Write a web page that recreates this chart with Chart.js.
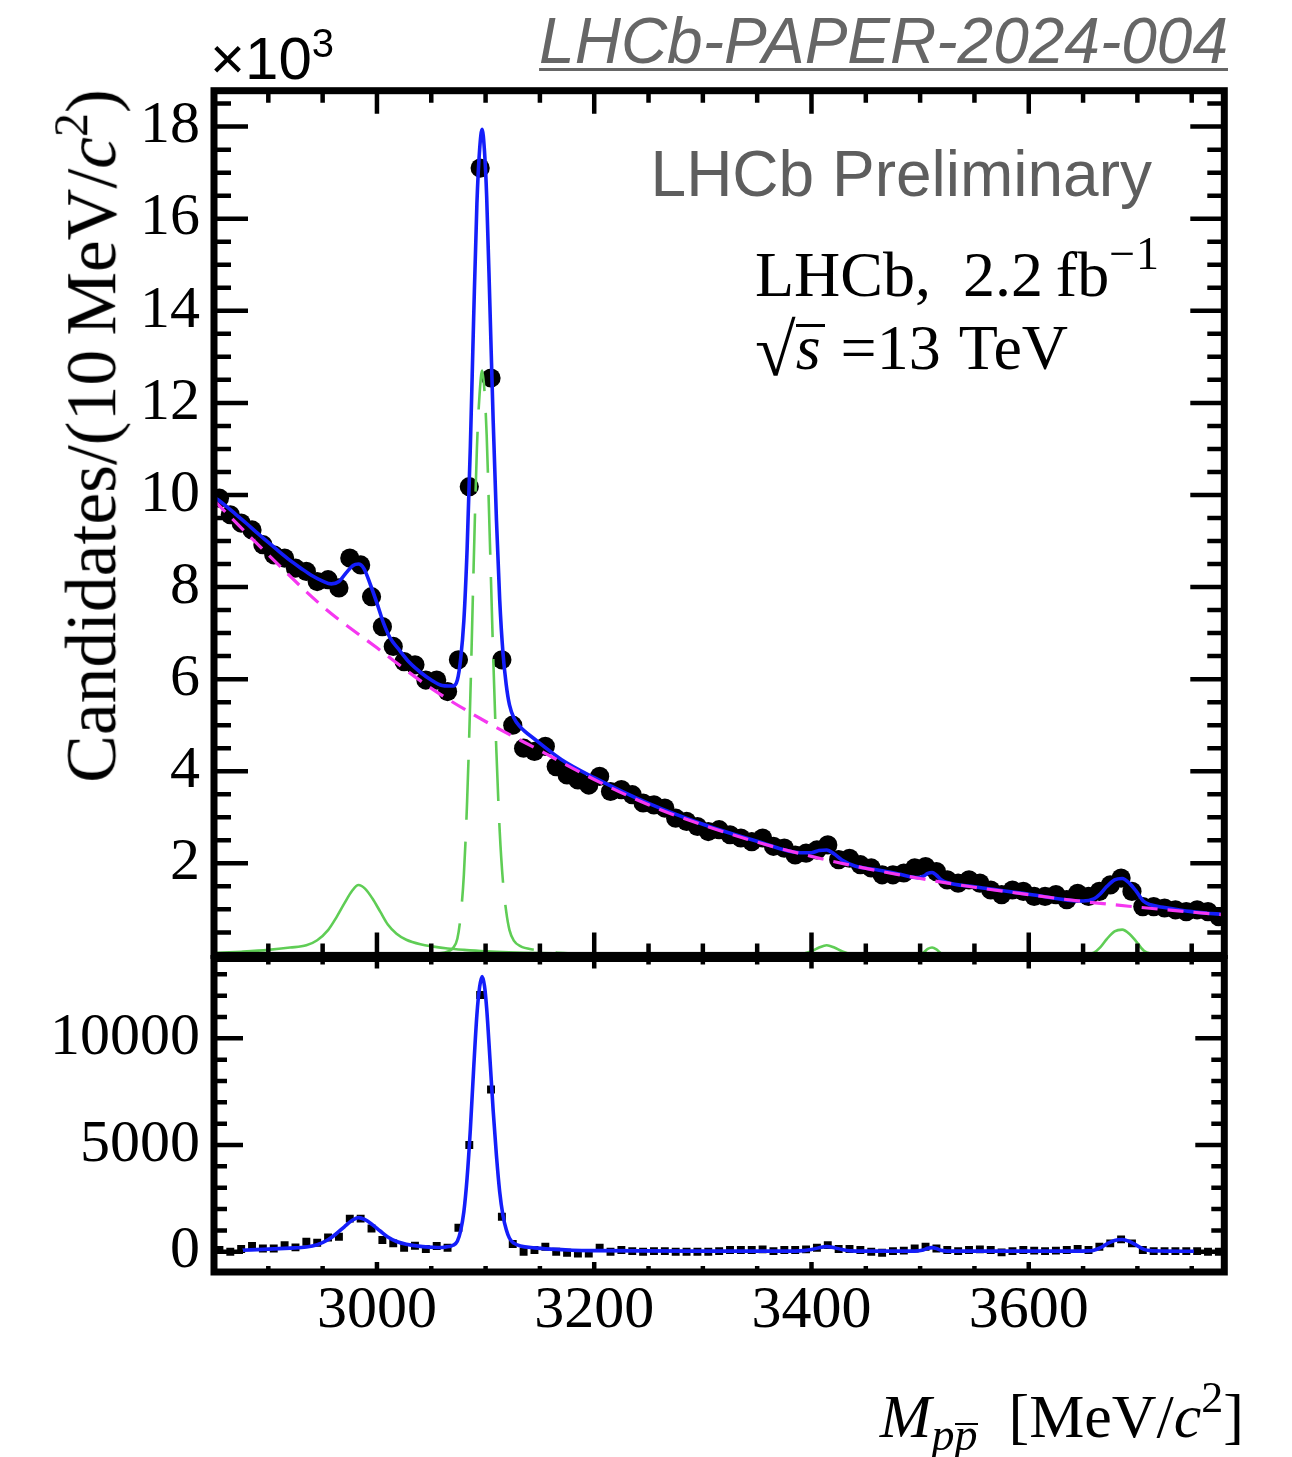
<!DOCTYPE html>
<html>
<head>
<meta charset="utf-8">
<title>LHCb p pbar invariant mass</title>
<script src="https://cdn.jsdelivr.net/npm/chart.js@4.4.1/dist/chart.umd.min.js"></script>
<style>
  html, body { margin: 0; padding: 0; background: #fff; }
  #wrap { position: relative; width: 1292px; height: 1457px; overflow: hidden; background: #fff; }
  canvas { position: absolute; left: 0; top: 0; }
  .t { position: absolute; white-space: nowrap; line-height: 1; }
  .serif { font-family: 'Liberation Serif', 'Times New Roman', serif; color: #000; }
  .sans { font-family: 'Liberation Sans', Arial, sans-serif; }
  .bar { display: inline-block; line-height: 0.425em; border-top: 2px solid #000; }
</style>
</head>
<body>
<div id="wrap">
  <canvas id="upper" width="1292" height="1457"></canvas>
  <canvas id="lower" width="1292" height="1457"></canvas>

  <div class="t sans" style="right:64px; top:9px; font-size:64px; font-style:italic; color:#666; text-decoration:underline; text-decoration-thickness:3px; text-underline-offset:5px;">LHCb-PAPER-2024-004</div>
  <div class="t sans" style="left:210px; top:29px; font-size:60px; color:#000;">×10<span style="font-size:40px; position:relative; top:-22px;">3</span></div>
  <div class="t sans" style="right:140px; top:142px; font-size:64px; color:#5e5e5e;">LHCb Preliminary</div>
  <div class="t serif" style="left:755px; top:243px; font-size:64px;">LHCb,&#8194;2.2&#8201;fb<span style="font-size:46px; position:relative; top:-27px; letter-spacing:1px;">−1</span></div>
  <div class="t serif" style="left:755px; top:307px; font-size:64px;"><span style="font-size:74px; position:relative; top:6px;">√</span><i style="display:inline-block; line-height:0.66em; border-top:3px solid #000; padding-right:4px;">s</i>&#8197;=13&#8202;&#8201;TeV</div>

  <div class="t serif" style="left:91px; top:436px; font-size:71.5px; transform: translate(-50%,-50%) rotate(-90deg);">Candidates/(10&#8201;MeV/<i>c</i><span style="font-size:48px; position:relative; top:-28px;">2</span>)</div>

  <div class="t serif" style="right:48px; top:1385px; font-size:62px;"><i>M</i><span style="font-size:46px; position:relative; top:13px;"><i>p</i><i class="bar">p</i></span>&#8194;[MeV/<i>c</i><span style="font-size:44px; position:relative; top:-25px;">2</span>]</div>
</div>

<script>
// 10 MeV bins of the p pbar invariant mass
const binCenters = [
  2855, 2865, 2875, 2885, 2895, 2905, 2915, 2925, 2935, 2945,
  2955, 2965, 2975, 2985, 2995, 3005, 3015, 3025, 3035, 3045,
  3055, 3065, 3075, 3085, 3095, 3105, 3115, 3125, 3135, 3145,
  3155, 3165, 3175, 3185, 3195, 3205, 3215, 3225, 3235, 3245,
  3255, 3265, 3275, 3285, 3295, 3305, 3315, 3325, 3335, 3345,
  3355, 3365, 3375, 3385, 3395, 3405, 3415, 3425, 3435, 3445,
  3455, 3465, 3475, 3485, 3495, 3505, 3515, 3525, 3535, 3545,
  3555, 3565, 3575, 3585, 3595, 3605, 3615, 3625, 3635, 3645,
  3655, 3665, 3675, 3685, 3695, 3705, 3715, 3725, 3735, 3745,
  3755, 3765, 3775
];

// candidates per bin
const upperCounts = [
  9930, 9570, 9390, 9240, 8920, 8700, 8630, 8410, 8340, 8120,
  8160, 7980, 8630, 8480, 7790, 7140, 6710, 6380, 6310, 5980,
  5980, 5730, 6420, 10180, 17100, 12540, 6420, 5000, 4500, 4430,
  4540, 4100, 3920, 3810, 3700, 3890, 3560, 3600, 3490, 3310,
  3270, 3200, 2980, 2910, 2800, 2690, 2730, 2620, 2550, 2470,
  2550, 2370, 2330, 2180, 2220, 2290, 2400, 2080, 2110, 1970,
  1900, 1750, 1750, 1790, 1900, 1930, 1820, 1640, 1570, 1640,
  1570, 1420, 1320, 1420, 1390, 1280, 1280, 1320, 1210, 1350,
  1280, 1390, 1530, 1680, 1390, 1060, 1060, 1030, 990, 950,
  990, 950, 840
];

// background-subtracted candidates per bin
const lowerCounts = [
  80, 0, 125, 265, 155, 155, 310, 205, 470, 420,
  670, 700, 1550, 1550, 1090, 550, 390, 190, 280, 125,
  265, 190, 1120, 5000, 12030, 7600, 1640, 360, 0, 80,
  235, 0, -50, -80, -80, 190, 0, 80, 30, 0,
  30, 30, 0, 0, 0, 0, 30, 80, 80, 80,
  110, 30, 80, 80, 110, 190, 310, 125, 125, 80,
  0, -50, 30, 50, 155, 235, 155, 80, 30, 80,
  110, 80, -30, 30, 80, 50, 30, 50, 80, 125,
  80, 235, 390, 580, 390, 80, 30, 30, 30, 30,
  30, 0, 0
];

// total fit
const totalFitMass = [
  2850, 2860, 2870, 2880, 2890, 2900, 2910, 2920, 2930, 2940,
  2950, 2958, 2965, 2972, 2978, 2983, 2988, 2994, 3000, 3006,
  3012, 3020, 3030, 3040, 3050, 3060, 3066, 3070, 3074, 3077,
  3080, 3083, 3086, 3089, 3092, 3094.5, 3096.8, 3099, 3101, 3104,
  3107, 3110, 3113, 3116, 3119, 3122, 3126, 3132, 3145, 3170,
  3200, 3250, 3300, 3350, 3390, 3400, 3407, 3414, 3421, 3428,
  3440, 3460, 3480, 3498, 3503, 3507, 3511, 3515, 3519, 3524,
  3550, 3600, 3650, 3660, 3666, 3672, 3679, 3686, 3693, 3699,
  3706, 3712, 3725, 3750, 3780
];
const totalFitCounts = [
  9960, 9780, 9580, 9380, 9170, 8970, 8770, 8580, 8410, 8250,
  8130, 8070, 8120, 8320, 8470, 8500, 8400, 8050, 7650, 7220,
  6900, 6650, 6360, 6150, 5980, 5860, 5850, 5850, 5980, 6430,
  7270, 8830, 11070, 13830, 16320, 17500, 17940, 17460, 16480, 14090,
  11600, 9460, 7720, 6570, 5880, 5440, 5160, 4960, 4700, 4250,
  3860, 3300, 2850, 2480, 2230, 2230, 2280, 2290, 2200, 2070,
  1940, 1860, 1770, 1690, 1720, 1780, 1800, 1740, 1650, 1590,
  1490, 1330, 1180, 1230, 1340, 1500, 1640, 1670, 1560, 1390,
  1170, 1100, 1040, 950, 890
];

// combinatorial background
const bkgFitMass = [
  2850, 2900, 2950, 3000, 3050, 3100, 3150, 3200, 3250, 3300,
  3350, 3400, 3450, 3500, 3550, 3600, 3650, 3700, 3750, 3780
];
const bkgFitCounts = [
  9880, 8700, 7580, 6680, 5800, 5080, 4450, 3820, 3270, 2830,
  2460, 2150, 1890, 1670, 1480, 1320, 1170, 1050, 940, 880
];

// J/psi component
const jpsiFitMass = [
  3040, 3055, 3066, 3070, 3074, 3077, 3080, 3083, 3086, 3089,
  3092, 3094.5, 3096.8, 3099, 3101, 3104, 3107, 3110, 3113, 3116,
  3119, 3122, 3126, 3132, 3145, 3160, 3180, 3200
];
const jpsiFitCounts = [
  20, 40, 90, 160, 360, 850, 1750, 3350, 5650, 8450,
  11000, 12200, 12700, 12250, 11300, 8950, 6500, 4400, 2700, 1600,
  950, 550, 320, 200, 120, 70, 40, 20
];

// eta_c, chi_c0, chi_c1 and psi(2S) components
const otherFitMass = [
  2850, 2875, 2900, 2920, 2935, 2945, 2955, 2962, 2970, 2977,
  2983, 2989, 2996, 3003, 3010, 3018, 3027, 3040, 3052, 3065,
  3080, 3100, 3150, 3200, 3300, 3385, 3393, 3400, 3407, 3414,
  3421, 3428, 3436, 3450, 3495, 3503, 3507, 3511, 3515, 3519,
  3525, 3640, 3655, 3660, 3666, 3672, 3679, 3686, 3693, 3699,
  3706, 3712, 3725, 3780
];
const otherFitCounts = [
  50, 80, 120, 170, 220, 330, 550, 800, 1130, 1400,
  1530, 1450, 1230, 950, 670, 470, 340, 240, 190, 150,
  120, 90, 50, 30, 20, 20, 40, 90, 170, 220,
  170, 90, 30, 20, 20, 60, 140, 170, 130, 50,
  20, 20, 30, 60, 180, 360, 520, 560, 460, 300,
  100, 40, 20, 10
];

// signal fit after background subtraction
const signalFitMass = [
  2876, 2900, 2920, 2935, 2945, 2955, 2962, 2970, 2977, 2983,
  2989, 2996, 3003, 3010, 3018, 3027, 3040, 3052, 3060, 3066,
  3070, 3074, 3077, 3080, 3083, 3086, 3089, 3092, 3094.5, 3096.8,
  3099, 3101, 3104, 3107, 3110, 3113, 3116, 3119, 3122, 3126,
  3132, 3145, 3160, 3180, 3200, 3300, 3385, 3393, 3400, 3407,
  3414, 3421, 3428, 3436, 3450, 3495, 3503, 3507, 3511, 3515,
  3519, 3525, 3640, 3655, 3660, 3666, 3672, 3679, 3686, 3693,
  3699, 3706, 3712, 3725, 3752
];
const signalFitCounts = [
  70, 120, 170, 220, 330, 560, 820, 1170, 1460, 1600,
  1500, 1260, 970, 690, 480, 350, 250, 210, 200, 240,
  300, 490, 980, 1870, 3470, 5760, 8560, 11100, 12400, 12900,
  12450, 11400, 9050, 6600, 4500, 2800, 1700, 1040, 630, 400,
  270, 180, 120, 70, 50, 30, 30, 50, 100, 190,
  240, 190, 100, 40, 30, 30, 80, 160, 190, 150,
  70, 30, 30, 40, 70, 190, 370, 530, 570, 470,
  310, 110, 50, 30, 20
];

// axis labels
const xTickLabels = [3000, 3200, 3400, 3600];
const upperTickLabels = [2, 4, 6, 8, 10, 12, 14, 16, 18];
const lowerTickLabels = [0, 5000, 10000];

const BLUE = 'rgb(20, 30, 250)';
const MAGENTA = 'rgb(245, 55, 240)';
const GREEN = 'rgb(95, 205, 85)';
const SERIF = "'Liberation Serif', 'Times New Roman', serif";

const pts = (xs, ys) => xs.map((x, i) => ({ x, y: ys[i] }));

// ROOT-style frame with inward ticks on all four sides
const frameTicks = {
  id: 'frameTicks',
  afterDraw(chart, _args, o) {
    const { ctx, chartArea: a } = chart;
    const xs = chart.scales.x, ys = chart.scales.y;
    ctx.save();
    ctx.strokeStyle = '#000';
    ctx.lineCap = 'butt';
    ctx.lineWidth = o.tickWidth;
    ctx.beginPath();
    const seg = (x1, y1, x2, y2) => { ctx.moveTo(x1, y1); ctx.lineTo(x2, y2); };
    for (let v = xs.min; v <= xs.max + 1e-6; v += o.xStep) {
      const p = xs.getPixelForValue(v);
      const L = o.xMajor.includes(v) ? o.xMajorLen : o.xMinorLen;
      seg(p, a.bottom, p, a.bottom - L);
      seg(p, a.top, p, a.top + L);
    }
    for (let v = o.yStart; v <= ys.max + 1e-6; v += o.yStep) {
      const p = ys.getPixelForValue(v);
      const L = o.yMajor.includes(v) ? o.yMajorLen : o.yMinorLen;
      seg(a.left, p, a.left + L, p);
      seg(a.right, p, a.right - L, p);
    }
    ctx.stroke();
    ctx.lineWidth = o.frameWidth;
    ctx.strokeRect(a.left, a.top, a.right - a.left, a.bottom - a.top);
    ctx.restore();
  }
};

const tickFont = { family: SERIF, size: 60 };

// upper panel: candidates with fit components
new Chart(document.getElementById('upper'), {
  type: 'line',
  data: {
    datasets: [
      { label: 'Data', data: pts(binCenters, upperCounts), showLine: false,
        pointRadius: 9.6, pointStyle: 'circle', pointBackgroundColor: '#000',
        pointBorderWidth: 0, order: 5 },
      { label: 'Other resonances', data: pts(otherFitMass, otherFitCounts),
        borderColor: GREEN, borderWidth: 2.6, pointRadius: 0,
        cubicInterpolationMode: 'monotone', order: 3 },
      { label: 'J/psi', data: pts(jpsiFitMass, jpsiFitCounts),
        borderColor: GREEN, borderWidth: 2.6, borderDash: [60, 22], pointRadius: 0,
        cubicInterpolationMode: 'monotone', order: 2 },
      { label: 'Total fit', data: pts(totalFitMass, totalFitCounts),
        borderColor: BLUE, borderWidth: 3.6, pointRadius: 0,
        cubicInterpolationMode: 'monotone', order: 1 },
      { label: 'Background', data: pts(bkgFitMass, bkgFitCounts),
        borderColor: MAGENTA, borderWidth: 3.2, borderDash: [16, 10], pointRadius: 0,
        cubicInterpolationMode: 'monotone', order: 0 }
    ]
  },
  options: {
    responsive: false, animation: false, events: [],
    layout: { padding: { left: 0, right: 67.7, top: 90.7, bottom: 501.6 } },
    plugins: {
      legend: { display: false }, tooltip: { enabled: false },
      frameTicks: {
        tickWidth: 4.5, frameWidth: 7,
        xStep: 50, xMajor: xTickLabels, xMajorLen: 23, xMinorLen: 12,
        yStart: 0, yStep: 500, yMajor: [0].concat(upperTickLabels.map(v => v * 1000)),
        yMajorLen: 34, yMinorLen: 17
      }
    },
    scales: {
      x: { type: 'linear', min: 2850, max: 3780, display: false },
      y: {
        type: 'linear', min: 0, max: 18780,
        afterFit: s => { s.width = 214; },
        afterBuildTicks: s => { s.ticks = upperTickLabels.map(v => ({ value: v * 1000 })); },
        grid: { display: false, drawTicks: false },
        border: { display: false },
        ticks: { autoSkip: false, padding: 14, color: '#000', font: tickFont,
                 callback: v => String(Math.round(v / 1000)) }
      }
    }
  },
  plugins: [frameTicks]
});

// lower panel: background-subtracted candidates
new Chart(document.getElementById('lower'), {
  type: 'line',
  data: {
    datasets: [
      { label: 'Data', data: pts(binCenters, lowerCounts), showLine: false,
        pointRadius: 5.6, pointStyle: 'rect', pointBackgroundColor: '#000',
        pointBorderWidth: 0, order: 5 },
      { label: 'Signal fit', data: pts(signalFitMass, signalFitCounts),
        borderColor: BLUE, borderWidth: 3.6, pointRadius: 0,
        cubicInterpolationMode: 'monotone', order: 1 }
    ]
  },
  options: {
    responsive: false, animation: false, events: [],
    layout: { padding: { left: 0, right: 67.7, top: 958.5, bottom: 125 } },
    plugins: {
      legend: { display: false }, tooltip: { enabled: false },
      frameTicks: {
        tickWidth: 4.5, frameWidth: 7,
        xStep: 50, xMajor: xTickLabels, xMajorLen: 10, xMinorLen: 6,
        yStart: 0, yStep: 1000, yMajor: lowerTickLabels,
        yMajorLen: 29, yMinorLen: 13
      }
    },
    scales: {
      x: {
        type: 'linear', min: 2850, max: 3780,
        afterFit: s => { s.height = 60; },
        afterBuildTicks: s => { s.ticks = xTickLabels.map(v => ({ value: v })); },
        grid: { display: false, drawTicks: false },
        border: { display: false },
        ticks: { autoSkip: false, maxRotation: 0, padding: 3, color: '#000', font: tickFont,
                 callback: v => String(v) }
      },
      y: {
        type: 'linear', min: -950, max: 13740,
        afterFit: s => { s.width = 214; },
        afterBuildTicks: s => { s.ticks = lowerTickLabels.map(v => ({ value: v })); },
        grid: { display: false, drawTicks: false },
        border: { display: false },
        ticks: { autoSkip: false, padding: 14, color: '#000', font: tickFont,
                 callback: v => String(v) }
      }
    }
  },
  plugins: [frameTicks]
});
</script>
</body>
</html>
